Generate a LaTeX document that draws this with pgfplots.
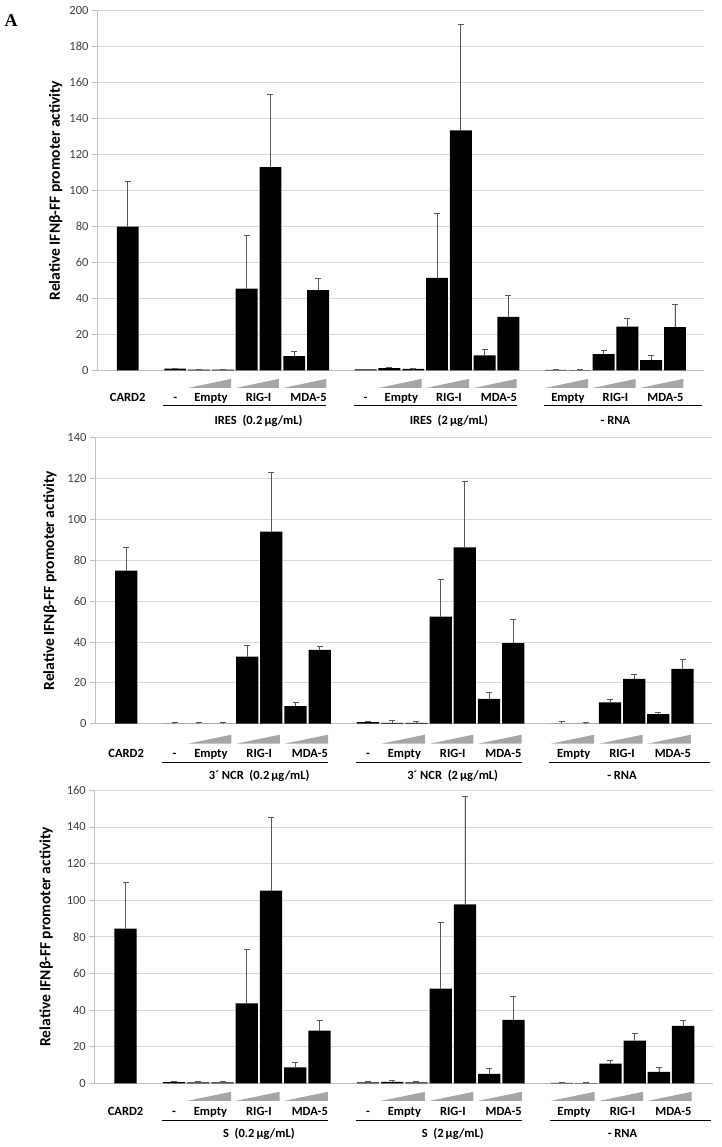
\documentclass[border=0pt]{standalone}
\usepackage{pgfplots}
\pgfplotsset{compat=1.18}
\usepackage{pgfplotstable}
\usepackage{fontspec}
\setmainfont{Carlito}
\newfontfamily\serifA{Liberation Serif}
\definecolor{gridgray}{HTML}{D9D9D9}
\definecolor{axgray}{HTML}{BFBFBF}
\definecolor{tickgray}{HTML}{404040}
\definecolor{errgray}{HTML}{595959}
\definecolor{wedgegray}{HTML}{A6A6A6}

% x = bar slot, y = mean, e = upper error
\pgfplotstableread{
x y e
0 80.0 25.0
2 1.0 0.4
3 0.5 0.0
4 0.5 0.0
5 45.4 29.6
6 113.0 40.4
7 8.0 2.5
8 44.7 6.3
10 0.6 0.1
11 1.3 0.4
12 0.8 0.1
13 51.4 35.8
14 133.5 59.0
15 8.3 3.6
16 29.8 11.9
18 0.3 0.3
19 0.2 0.3
20 9.0 2.2
21 24.4 4.3
22 5.7 2.5
23 24.1 12.7
}\dataA

\pgfplotstableread{
x y e
0 74.9 11.2
2 0.1 0.5
3 0.1 0.5
4 0.1 0.6
5 32.8 5.5
6 94.0 29.0
7 8.6 1.8
8 36.2 1.6
10 0.8 0.4
11 0.4 1.2
12 0.4 0.7
13 52.4 18.2
14 86.3 32.1
15 12.1 3.2
16 39.5 11.6
18 0.1 1.0
19 0.1 0.6
20 10.4 1.5
21 22.0 2.1
22 4.7 1.0
23 26.8 4.7
}\dataB

\pgfplotstableread{
x y e
0 84.5 25.4
2 0.6 0.7
3 0.5 0.6
4 0.5 0.6
5 43.7 29.5
6 105.2 40.0
7 8.7 2.8
8 28.8 5.6
10 0.5 0.5
11 0.8 0.8
12 0.5 0.5
13 51.7 36.2
14 97.7 58.8
15 5.1 3.3
16 34.6 12.9
18 0.3 0.4
19 0.1 0.4
20 10.7 1.9
21 23.3 4.0
22 6.2 2.5
23 31.3 3.1
}\dataC

\newcommand\labfont{\fontsize{12.5}{14}\selectfont\bfseries}
\newcommand\wdg[3]{\fill[wedgegray] ([yshift=-#3-9pt]axis cs:#1,0) -- ([yshift=-#3-9pt]axis cs:#2,0) -- ([yshift=-#3]axis cs:#2,0) -- cycle;}
\newcommand\lab[3]{\node[font=\labfont, anchor=base, inner sep=0pt] at ([yshift=-#3]axis cs:#1,0) {#2};}
\newcommand\uline[3]{\draw[line width=0.9pt] ([yshift=-#3]axis cs:#1,0) -- ([yshift=-#3]axis cs:#2,0);}
% #1 wedge top, #2 label baseline, #3 underline, #4 title baseline, #5-#7 titles
\newcommand\annot[7]{%
  \wdg{2.55}{4.35}{#1}\wdg{4.55}{6.35}{#1}\wdg{6.55}{8.35}{#1}%
  \wdg{10.55}{12.35}{#1}\wdg{12.55}{14.35}{#1}\wdg{14.55}{16.35}{#1}%
  \wdg{17.55}{19.35}{#1}\wdg{19.55}{21.35}{#1}\wdg{21.55}{23.35}{#1}%
  \lab{0}{CARD2}{#2}%
  \lab{2}{-}{#2}\lab{3.5}{Empty}{#2}\lab{5.5}{RIG-I}{#2}\lab{7.6}{MDA-5}{#2}%
  \lab{10}{-}{#2}\lab{11.5}{Empty}{#2}\lab{13.5}{RIG-I}{#2}\lab{15.6}{MDA-5}{#2}%
  \lab{18.5}{Empty}{#2}\lab{20.5}{RIG-I}{#2}\lab{22.6}{MDA-5}{#2}%
  \uline{1.5}{8.35}{#3}\uline{9.5}{16.35}{#3}\uline{17.5}{24.15}{#3}%
  \lab{5.5}{#5}{#4}\lab{13.5}{#6}{#4}\lab{20.5}{#7}{#4}%
}

\pgfplotsset{
  panel/.style={
    scale only axis, anchor=south west, clip=false,
    xmin=-1.29, xmax=24.22, ymin=0,
    xtick=\empty, ytick distance=20,
    axis lines*=left, axis line style={draw=axgray, line width=0.8pt},
    ymajorgrids, grid style={draw=gridgray, line width=0.8pt},
    tick align=outside, major tick length=5pt,
    ytick style={draw=axgray, line width=0.8pt},
    tick label style={font=\fontsize{12.5}{14}\selectfont, text=tickgray},
    /pgf/number format/assume math mode=true,
    ylabel={Relative IFNβ-FF promoter activity},
    ylabel style={font=\fontsize{15.5}{17}\selectfont\bfseries, anchor=center},
  },
  bars/.style={ybar, bar width=0.92, fill=black, draw=none,
    error bars/.cd, y dir=plus, y explicit,
    error bar style={draw=errgray, line width=0.7pt},
    error mark options={rotate=90, draw=errgray, mark size=3pt, line width=0.7pt}},
}

\begin{document}
\begin{tikzpicture}
\path[use as bounding box] (0,0) rectangle (721pt,-1147pt);
\node[font=\serifA\bfseries\fontsize{18}{19}\selectfont] at (11pt,-21pt) {A};

\begin{axis}[panel, at={(97pt,-370.4pt)}, width=607pt, height=359.7pt, ymax=200,
  ylabel style={at={(axis description cs:-0.068,0.5)}}]
\addplot[bars] table[x=x, y=y, y error=e]{\dataA};
\annot{8.5pt}{31pt}{35pt}{54pt}{IRES\ \ (0.2\,μg/mL)}{IRES\ \ (2\,μg/mL)}{- RNA}
\end{axis}

\begin{axis}[panel, at={(95pt,-723.7pt)}, width=617pt, height=286pt, ymax=140,
  ylabel style={at={(axis description cs:-0.073,0.5)}}]
\addplot[bars] table[x=x, y=y, y error=e]{\dataB};
\annot{11pt}{33.5pt}{38.5pt}{55.5pt}{3´\ NCR\ \ (0.2\,μg/mL)}{3´\ NCR\ \ (2\,μg/mL)}{- RNA}
\end{axis}

\begin{axis}[panel, at={(94.3pt,-1083.3pt)}, width=618.4pt, height=293pt, ymax=160,
  ylabel style={at={(axis description cs:-0.078,0.5)}}]
\addplot[bars] table[x=x, y=y, y error=e]{\dataC};
\annot{8.5pt}{32pt}{37.5pt}{54pt}{S\ \ (0.2\,μg/mL)}{S\ \ (2\,μg/mL)}{- RNA}
\end{axis}
\end{tikzpicture}
\end{document}
